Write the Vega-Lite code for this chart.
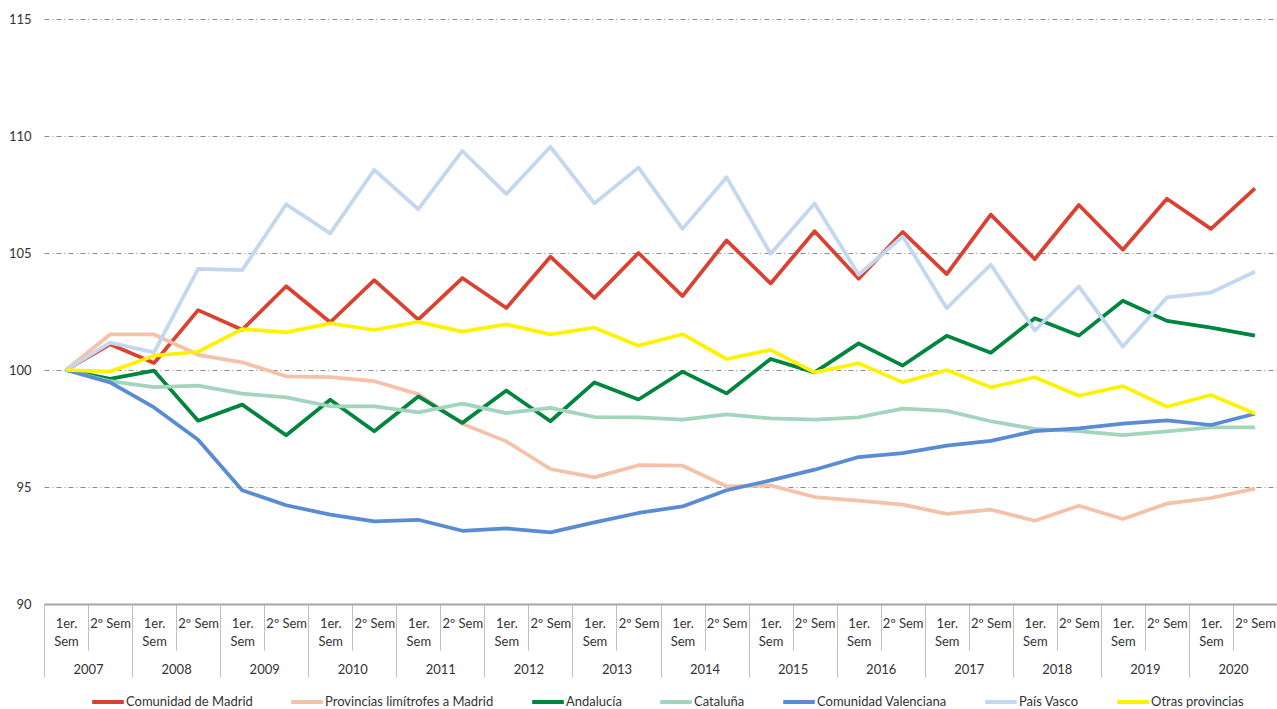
{
  "$schema": "https://vega.github.io/schema/vega-lite/v6.json",
  "autosize": {"type": "none"},
  "width": 1233,
  "height": 585,
  "padding": {"left": 44, "top": 19, "right": 0, "bottom": 105},
  "background": "white",
  "config": {"view": {"stroke": null}, "font": "Lato"},
  "datasets": {
    "main": [
      {"sem":"2007-1","year":"2007","region":"Comunidad de Madrid","value":100},
      {"sem":"2007-2","year":"2007","region":"Comunidad de Madrid","value":101.1},
      {"sem":"2008-1","year":"2008","region":"Comunidad de Madrid","value":100.3},
      {"sem":"2008-2","year":"2008","region":"Comunidad de Madrid","value":102.56},
      {"sem":"2009-1","year":"2009","region":"Comunidad de Madrid","value":101.72},
      {"sem":"2009-2","year":"2009","region":"Comunidad de Madrid","value":103.58},
      {"sem":"2010-1","year":"2010","region":"Comunidad de Madrid","value":102.04},
      {"sem":"2010-2","year":"2010","region":"Comunidad de Madrid","value":103.84},
      {"sem":"2011-1","year":"2011","region":"Comunidad de Madrid","value":102.15},
      {"sem":"2011-2","year":"2011","region":"Comunidad de Madrid","value":103.93},
      {"sem":"2012-1","year":"2012","region":"Comunidad de Madrid","value":102.65},
      {"sem":"2012-2","year":"2012","region":"Comunidad de Madrid","value":104.84},
      {"sem":"2013-1","year":"2013","region":"Comunidad de Madrid","value":103.08},
      {"sem":"2013-2","year":"2013","region":"Comunidad de Madrid","value":105.0},
      {"sem":"2014-1","year":"2014","region":"Comunidad de Madrid","value":103.16},
      {"sem":"2014-2","year":"2014","region":"Comunidad de Madrid","value":105.54},
      {"sem":"2015-1","year":"2015","region":"Comunidad de Madrid","value":103.7},
      {"sem":"2015-2","year":"2015","region":"Comunidad de Madrid","value":105.93},
      {"sem":"2016-1","year":"2016","region":"Comunidad de Madrid","value":103.9},
      {"sem":"2016-2","year":"2016","region":"Comunidad de Madrid","value":105.9},
      {"sem":"2017-1","year":"2017","region":"Comunidad de Madrid","value":104.1},
      {"sem":"2017-2","year":"2017","region":"Comunidad de Madrid","value":106.64},
      {"sem":"2018-1","year":"2018","region":"Comunidad de Madrid","value":104.74},
      {"sem":"2018-2","year":"2018","region":"Comunidad de Madrid","value":107.05},
      {"sem":"2019-1","year":"2019","region":"Comunidad de Madrid","value":105.14},
      {"sem":"2019-2","year":"2019","region":"Comunidad de Madrid","value":107.32},
      {"sem":"2020-1","year":"2020","region":"Comunidad de Madrid","value":106.03},
      {"sem":"2020-2","year":"2020","region":"Comunidad de Madrid","value":107.76},

      {"sem":"2007-1","year":"2007","region":"Provincias limítrofes a Madrid","value":100},
      {"sem":"2007-2","year":"2007","region":"Provincias limítrofes a Madrid","value":101.52},
      {"sem":"2008-1","year":"2008","region":"Provincias limítrofes a Madrid","value":101.52},
      {"sem":"2008-2","year":"2008","region":"Provincias limítrofes a Madrid","value":100.65},
      {"sem":"2009-1","year":"2009","region":"Provincias limítrofes a Madrid","value":100.33},
      {"sem":"2009-2","year":"2009","region":"Provincias limítrofes a Madrid","value":99.73},
      {"sem":"2010-1","year":"2010","region":"Provincias limítrofes a Madrid","value":99.7},
      {"sem":"2010-2","year":"2010","region":"Provincias limítrofes a Madrid","value":99.52},
      {"sem":"2011-1","year":"2011","region":"Provincias limítrofes a Madrid","value":98.97},
      {"sem":"2011-2","year":"2011","region":"Provincias limítrofes a Madrid","value":97.7},
      {"sem":"2012-1","year":"2012","region":"Provincias limítrofes a Madrid","value":96.95},
      {"sem":"2012-2","year":"2012","region":"Provincias limítrofes a Madrid","value":95.77},
      {"sem":"2013-1","year":"2013","region":"Provincias limítrofes a Madrid","value":95.41},
      {"sem":"2013-2","year":"2013","region":"Provincias limítrofes a Madrid","value":95.93},
      {"sem":"2014-1","year":"2014","region":"Provincias limítrofes a Madrid","value":95.91},
      {"sem":"2014-2","year":"2014","region":"Provincias limítrofes a Madrid","value":95.03},
      {"sem":"2015-1","year":"2015","region":"Provincias limítrofes a Madrid","value":95.07},
      {"sem":"2015-2","year":"2015","region":"Provincias limítrofes a Madrid","value":94.57},
      {"sem":"2016-1","year":"2016","region":"Provincias limítrofes a Madrid","value":94.42},
      {"sem":"2016-2","year":"2016","region":"Provincias limítrofes a Madrid","value":94.25},
      {"sem":"2017-1","year":"2017","region":"Provincias limítrofes a Madrid","value":93.85},
      {"sem":"2017-2","year":"2017","region":"Provincias limítrofes a Madrid","value":94.03},
      {"sem":"2018-1","year":"2018","region":"Provincias limítrofes a Madrid","value":93.56},
      {"sem":"2018-2","year":"2018","region":"Provincias limítrofes a Madrid","value":94.2},
      {"sem":"2019-1","year":"2019","region":"Provincias limítrofes a Madrid","value":93.63},
      {"sem":"2019-2","year":"2019","region":"Provincias limítrofes a Madrid","value":94.29},
      {"sem":"2020-1","year":"2020","region":"Provincias limítrofes a Madrid","value":94.53},
      {"sem":"2020-2","year":"2020","region":"Provincias limítrofes a Madrid","value":94.93},

      {"sem":"2007-1","year":"2007","region":"Andalucía","value":100},
      {"sem":"2007-2","year":"2007","region":"Andalucía","value":99.62},
      {"sem":"2008-1","year":"2008","region":"Andalucía","value":99.97},
      {"sem":"2008-2","year":"2008","region":"Andalucía","value":97.83},
      {"sem":"2009-1","year":"2009","region":"Andalucía","value":98.52},
      {"sem":"2009-2","year":"2009","region":"Andalucía","value":97.21},
      {"sem":"2010-1","year":"2010","region":"Andalucía","value":98.73},
      {"sem":"2010-2","year":"2010","region":"Andalucía","value":97.38},
      {"sem":"2011-1","year":"2011","region":"Andalucía","value":98.87},
      {"sem":"2011-2","year":"2011","region":"Andalucía","value":97.74},
      {"sem":"2012-1","year":"2012","region":"Andalucía","value":99.12},
      {"sem":"2012-2","year":"2012","region":"Andalucía","value":97.81},
      {"sem":"2013-1","year":"2013","region":"Andalucía","value":99.47},
      {"sem":"2013-2","year":"2013","region":"Andalucía","value":98.74},
      {"sem":"2014-1","year":"2014","region":"Andalucía","value":99.93},
      {"sem":"2014-2","year":"2014","region":"Andalucía","value":99.0},
      {"sem":"2015-1","year":"2015","region":"Andalucía","value":100.47},
      {"sem":"2015-2","year":"2015","region":"Andalucía","value":99.9},
      {"sem":"2016-1","year":"2016","region":"Andalucía","value":101.14},
      {"sem":"2016-2","year":"2016","region":"Andalucía","value":100.19},
      {"sem":"2017-1","year":"2017","region":"Andalucía","value":101.46},
      {"sem":"2017-2","year":"2017","region":"Andalucía","value":100.74},
      {"sem":"2018-1","year":"2018","region":"Andalucía","value":102.21},
      {"sem":"2018-2","year":"2018","region":"Andalucía","value":101.47},
      {"sem":"2019-1","year":"2019","region":"Andalucía","value":102.96},
      {"sem":"2019-2","year":"2019","region":"Andalucía","value":102.1},
      {"sem":"2020-1","year":"2020","region":"Andalucía","value":101.81},
      {"sem":"2020-2","year":"2020","region":"Andalucía","value":101.47},

      {"sem":"2007-1","year":"2007","region":"Cataluña","value":100},
      {"sem":"2007-2","year":"2007","region":"Cataluña","value":99.52},
      {"sem":"2008-1","year":"2008","region":"Cataluña","value":99.27},
      {"sem":"2008-2","year":"2008","region":"Cataluña","value":99.33},
      {"sem":"2009-1","year":"2009","region":"Cataluña","value":98.99},
      {"sem":"2009-2","year":"2009","region":"Cataluña","value":98.83},
      {"sem":"2010-1","year":"2010","region":"Cataluña","value":98.45},
      {"sem":"2010-2","year":"2010","region":"Cataluña","value":98.45},
      {"sem":"2011-1","year":"2011","region":"Cataluña","value":98.19},
      {"sem":"2011-2","year":"2011","region":"Cataluña","value":98.56},
      {"sem":"2012-1","year":"2012","region":"Cataluña","value":98.16},
      {"sem":"2012-2","year":"2012","region":"Cataluña","value":98.38},
      {"sem":"2013-1","year":"2013","region":"Cataluña","value":97.99},
      {"sem":"2013-2","year":"2013","region":"Cataluña","value":97.98},
      {"sem":"2014-1","year":"2014","region":"Cataluña","value":97.88},
      {"sem":"2014-2","year":"2014","region":"Cataluña","value":98.1},
      {"sem":"2015-1","year":"2015","region":"Cataluña","value":97.93},
      {"sem":"2015-2","year":"2015","region":"Cataluña","value":97.88},
      {"sem":"2016-1","year":"2016","region":"Cataluña","value":97.98},
      {"sem":"2016-2","year":"2016","region":"Cataluña","value":98.35},
      {"sem":"2017-1","year":"2017","region":"Cataluña","value":98.25},
      {"sem":"2017-2","year":"2017","region":"Cataluña","value":97.81},
      {"sem":"2018-1","year":"2018","region":"Cataluña","value":97.48},
      {"sem":"2018-2","year":"2018","region":"Cataluña","value":97.39},
      {"sem":"2019-1","year":"2019","region":"Cataluña","value":97.22},
      {"sem":"2019-2","year":"2019","region":"Cataluña","value":97.38},
      {"sem":"2020-1","year":"2020","region":"Cataluña","value":97.55},
      {"sem":"2020-2","year":"2020","region":"Cataluña","value":97.55},

      {"sem":"2007-1","year":"2007","region":"Comunidad Valenciana","value":100},
      {"sem":"2007-2","year":"2007","region":"Comunidad Valenciana","value":99.47},
      {"sem":"2008-1","year":"2008","region":"Comunidad Valenciana","value":98.4},
      {"sem":"2008-2","year":"2008","region":"Comunidad Valenciana","value":97.02},
      {"sem":"2009-1","year":"2009","region":"Comunidad Valenciana","value":94.86},
      {"sem":"2009-2","year":"2009","region":"Comunidad Valenciana","value":94.22},
      {"sem":"2010-1","year":"2010","region":"Comunidad Valenciana","value":93.82},
      {"sem":"2010-2","year":"2010","region":"Comunidad Valenciana","value":93.53},
      {"sem":"2011-1","year":"2011","region":"Comunidad Valenciana","value":93.6},
      {"sem":"2011-2","year":"2011","region":"Comunidad Valenciana","value":93.13},
      {"sem":"2012-1","year":"2012","region":"Comunidad Valenciana","value":93.23},
      {"sem":"2012-2","year":"2012","region":"Comunidad Valenciana","value":93.06},
      {"sem":"2013-1","year":"2013","region":"Comunidad Valenciana","value":93.49},
      {"sem":"2013-2","year":"2013","region":"Comunidad Valenciana","value":93.89},
      {"sem":"2014-1","year":"2014","region":"Comunidad Valenciana","value":94.17},
      {"sem":"2014-2","year":"2014","region":"Comunidad Valenciana","value":94.86},
      {"sem":"2015-1","year":"2015","region":"Comunidad Valenciana","value":95.28},
      {"sem":"2015-2","year":"2015","region":"Comunidad Valenciana","value":95.74},
      {"sem":"2016-1","year":"2016","region":"Comunidad Valenciana","value":96.28},
      {"sem":"2016-2","year":"2016","region":"Comunidad Valenciana","value":96.45},
      {"sem":"2017-1","year":"2017","region":"Comunidad Valenciana","value":96.77},
      {"sem":"2017-2","year":"2017","region":"Comunidad Valenciana","value":96.97},
      {"sem":"2018-1","year":"2018","region":"Comunidad Valenciana","value":97.39},
      {"sem":"2018-2","year":"2018","region":"Comunidad Valenciana","value":97.51},
      {"sem":"2019-1","year":"2019","region":"Comunidad Valenciana","value":97.71},
      {"sem":"2019-2","year":"2019","region":"Comunidad Valenciana","value":97.85},
      {"sem":"2020-1","year":"2020","region":"Comunidad Valenciana","value":97.65},
      {"sem":"2020-2","year":"2020","region":"Comunidad Valenciana","value":98.13},

      {"sem":"2007-1","year":"2007","region":"País Vasco","value":100},
      {"sem":"2007-2","year":"2007","region":"País Vasco","value":101.17},
      {"sem":"2008-1","year":"2008","region":"País Vasco","value":100.75},
      {"sem":"2008-2","year":"2008","region":"País Vasco","value":104.32},
      {"sem":"2009-1","year":"2009","region":"País Vasco","value":104.27},
      {"sem":"2009-2","year":"2009","region":"País Vasco","value":107.08},
      {"sem":"2010-1","year":"2010","region":"País Vasco","value":105.84},
      {"sem":"2010-2","year":"2010","region":"País Vasco","value":108.55},
      {"sem":"2011-1","year":"2011","region":"País Vasco","value":106.87},
      {"sem":"2011-2","year":"2011","region":"País Vasco","value":109.36},
      {"sem":"2012-1","year":"2012","region":"País Vasco","value":107.52},
      {"sem":"2012-2","year":"2012","region":"País Vasco","value":109.54},
      {"sem":"2013-1","year":"2013","region":"País Vasco","value":107.12},
      {"sem":"2013-2","year":"2013","region":"País Vasco","value":108.65},
      {"sem":"2014-1","year":"2014","region":"País Vasco","value":106.03},
      {"sem":"2014-2","year":"2014","region":"País Vasco","value":108.24},
      {"sem":"2015-1","year":"2015","region":"País Vasco","value":104.97},
      {"sem":"2015-2","year":"2015","region":"País Vasco","value":107.12},
      {"sem":"2016-1","year":"2016","region":"País Vasco","value":104.07},
      {"sem":"2016-2","year":"2016","region":"País Vasco","value":105.71},
      {"sem":"2017-1","year":"2017","region":"País Vasco","value":102.64},
      {"sem":"2017-2","year":"2017","region":"País Vasco","value":104.5},
      {"sem":"2018-1","year":"2018","region":"País Vasco","value":101.69},
      {"sem":"2018-2","year":"2018","region":"País Vasco","value":103.57},
      {"sem":"2019-1","year":"2019","region":"País Vasco","value":101.0},
      {"sem":"2019-2","year":"2019","region":"País Vasco","value":103.1},
      {"sem":"2020-1","year":"2020","region":"País Vasco","value":103.31},
      {"sem":"2020-2","year":"2020","region":"País Vasco","value":104.2},

      {"sem":"2007-1","year":"2007","region":"Otras provincias","value":100},
      {"sem":"2007-2","year":"2007","region":"Otras provincias","value":99.93},
      {"sem":"2008-1","year":"2008","region":"Otras provincias","value":100.61},
      {"sem":"2008-2","year":"2008","region":"Otras provincias","value":100.78},
      {"sem":"2009-1","year":"2009","region":"Otras provincias","value":101.75},
      {"sem":"2009-2","year":"2009","region":"Otras provincias","value":101.61},
      {"sem":"2010-1","year":"2010","region":"Otras provincias","value":101.99},
      {"sem":"2010-2","year":"2010","region":"Otras provincias","value":101.71},
      {"sem":"2011-1","year":"2011","region":"Otras provincias","value":102.06},
      {"sem":"2011-2","year":"2011","region":"Otras provincias","value":101.64},
      {"sem":"2012-1","year":"2012","region":"Otras provincias","value":101.95},
      {"sem":"2012-2","year":"2012","region":"Otras provincias","value":101.52},
      {"sem":"2013-1","year":"2013","region":"Otras provincias","value":101.81},
      {"sem":"2013-2","year":"2013","region":"Otras provincias","value":101.04},
      {"sem":"2014-1","year":"2014","region":"Otras provincias","value":101.53},
      {"sem":"2014-2","year":"2014","region":"Otras provincias","value":100.47},
      {"sem":"2015-1","year":"2015","region":"Otras provincias","value":100.86},
      {"sem":"2015-2","year":"2015","region":"Otras provincias","value":99.9},
      {"sem":"2016-1","year":"2016","region":"Otras provincias","value":100.29},
      {"sem":"2016-2","year":"2016","region":"Otras provincias","value":99.47},
      {"sem":"2017-1","year":"2017","region":"Otras provincias","value":100.0},
      {"sem":"2017-2","year":"2017","region":"Otras provincias","value":99.26},
      {"sem":"2018-1","year":"2018","region":"Otras provincias","value":99.69},
      {"sem":"2018-2","year":"2018","region":"Otras provincias","value":98.9},
      {"sem":"2019-1","year":"2019","region":"Otras provincias","value":99.31},
      {"sem":"2019-2","year":"2019","region":"Otras provincias","value":98.43},
      {"sem":"2020-1","year":"2020","region":"Otras provincias","value":98.93},
      {"sem":"2020-2","year":"2020","region":"Otras provincias","value":98.14}
    ]
  },
  "data": {"name": "main"},
  "layer": [
    {
      "mark": {"type": "line", "strokeWidth": 3.75, "strokeJoin": "round"},
      "encoding": {
        "x": {
          "field": "sem", "type": "ordinal",
          "scale": {"type": "band", "paddingInner": 0, "paddingOuter": 0},
          "axis": {
            "title": null, "orient": "bottom", "tickBand": "extent",
            "tickSize": 46, "tickColor": "#BFBFBF", "tickWidth": 1,
            "domainColor": "#A6A6A6", "domainWidth": 2,
            "labelExpr": "datum.label == '' ? '' : (indexof(datum.label, '-1') > 0 ? ['1er.', 'Sem'] : '2º Sem')",
            "labelAngle": 0, "labelFontSize": 13, "labelColor": "#333333",
            "labelBaseline": "top", "labelAlign": "center", "labelPadding": -33,
            "labelLineHeight": 18, "labelOverlap": false, "grid": false
          }
        },
        "y": {
          "field": "value", "type": "quantitative",
          "scale": {"domain": [90, 115], "zero": false, "nice": false},
          "axis": {
            "title": null, "values": [90, 95, 100, 105, 110, 115],
            "domain": false, "ticks": false, "labelPadding": 13,
            "labelFontSize": 13, "labelColor": "#333333",
            "grid": true, "gridColor": "#8C8C8C", "gridDash": [5, 3, 1, 3], "gridWidth": 1
          }
        },
        "color": {
          "field": "region", "type": "nominal",
          "scale": {
            "domain": ["Comunidad de Madrid", "Provincias limítrofes a Madrid", "Andalucía", "Cataluña", "Comunidad Valenciana", "País Vasco", "Otras provincias"],
            "range": ["#DA4130", "#F4C1A9", "#00853F", "#A3D4BC", "#5A8BD5", "#C3D7F0", "#FFF200"]
          },
          "legend": {
            "title": null, "orient": "none", "legendX": 46, "legendY": 665,
            "direction": "horizontal",
            "symbolType": "stroke", "symbolSize": 1000, "symbolStrokeWidth": 4,
            "labelFontSize": 13, "labelColor": "#333333", "labelOffset": 0,
            "labelLimit": 400, "columnPadding": 30
          }
        }
      }
    },
    {
      "mark": {"type": "point", "opacity": 0},
      "encoding": {
        "x": {
          "field": "year", "type": "ordinal",
          "scale": {"type": "band", "paddingInner": 0, "paddingOuter": 0},
          "axis": {
            "title": null, "orient": "bottom", "tickBand": "extent",
            "tickSize": 73, "tickColor": "#BFBFBF", "tickWidth": 1,
            "domain": false, "labelAngle": 0, "labelFontSize": 13,
            "labelColor": "#333333", "labelBaseline": "top", "labelAlign": "center",
            "labelPadding": -14, "labelOverlap": false, "grid": false
          }
        }
      }
    }
  ],
  "resolve": {"scale": {"x": "independent"}, "axis": {"x": "independent"}}
}
